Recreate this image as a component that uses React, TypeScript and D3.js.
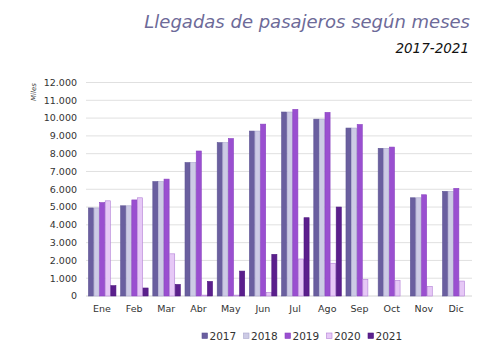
import * as d3 from "d3";

const MONTHS = ["Ene", "Feb", "Mar", "Abr", "May", "Jun", "Jul", "Ago", "Sep", "Oct", "Nov", "Dic"];
const YEARS = ["2017", "2018", "2019", "2020", "2021"];

// miles de pasajeros
const V2017 = [4950, 5070, 6430, 7500, 8620, 9270, 10340, 9940, 9440, 8300, 5520, 5880];
const V2018 = [4950, 5070, 6430, 7500, 8620, 9270, 10340, 9940, 9440, 8300, 5520, 5880];
const V2019 = [5250, 5400, 6570, 8150, 8850, 9660, 10490, 10320, 9640, 8370, 5690, 6050];
const V2020 = [5350, 5520, 2370, 50, 50, 200, 2080, 1840, 940, 880, 540, 840];
const V2021 = [580, 450, 650, 820, 1400, 2340, 4400, 5000, 0, 0, 0, 0];

const Y_TICKS = [0, 1000, 2000, 3000, 4000, 5000, 6000, 7000, 8000, 9000, 10000, 11000, 12000];

const COLORS = ["#6a5f9f", "#cdcbe5", "#9a4fd0", "#e6c8f6", "#5b1f8c"];
const STROKES = ["#5e5494", "#a9a6cc", "#8a43c0", "#b27fd6", "#4e1880"];

const MARGIN = { top: 82.5, right: 23, bottom: 63, left: 86 };
const W = 495;
const H = 359;

const fmt = (v: number) => d3.format(",")(v).replace(/,/g, ".");

export default function App() {
  const series = [V2017, V2018, V2019, V2020, V2021];
  const boundsW = W - MARGIN.left - MARGIN.right;
  const boundsH = H - MARGIN.top - MARGIN.bottom;

  const x0 = d3.scaleBand().domain(MONTHS).range([0, boundsW]).paddingInner(0.13).paddingOuter(0.06);
  const x1 = d3.scaleBand().domain(YEARS).range([0, x0.bandwidth()]).padding(0);
  const y = d3.scaleLinear().domain([0, 12000]).range([boundsH, 0]);

  const font = "'DejaVu Sans', Verdana, sans-serif";

  return (
    <svg width={W} height={H} style={{ position: "absolute", left: 0, top: 0 }}>
      <text x={470} y={28} textAnchor="end" fontFamily={font} fontStyle="italic" fontSize={18} fill="#6d6a98">
        Llegadas de pasajeros según meses
      </text>
      <text x={469} y={53} textAnchor="end" fontFamily={font} fontStyle="italic" fontSize={13.5} fill="#111">
        2017-2021
      </text>
      <text
        transform={`translate(36,92) rotate(-90)`}
        textAnchor="middle"
        fontFamily={font}
        fontStyle="italic"
        fontSize={7}
        fill="#444"
      >
        Miles
      </text>
      <g transform={`translate(${MARGIN.left},${MARGIN.top})`}>
        {Y_TICKS.map((t) => (
          <g key={t}>
            {t > 0 && <line x1={0} x2={boundsW} y1={y(t)} y2={y(t)} stroke="#e0e0e0" strokeWidth={1} />}
            <text x={-9} y={y(t)} dy="0.35em" textAnchor="end" fontFamily={font} fontSize={9.5} fill="#333">
              {fmt(t)}
            </text>
          </g>
        ))}
        <line x1={0} x2={boundsW} y1={boundsH} y2={boundsH} stroke="#d4d4d4" />
        {MONTHS.map((m, i) => (
          <g key={m} transform={`translate(${x0(m)},0)`}>
            {series.map((s, j) => {
              const v = s[i];
              if (!v) return null;
              return (
                <rect
                  key={j}
                  x={x1(YEARS[j])! + 0.5}
                  y={y(v)}
                  width={x1.bandwidth() - 0.5}
                  height={boundsH - y(v)}
                  fill={COLORS[j]}
                  stroke={STROKES[j]}
                  strokeWidth={0.6}
                />
              );
            })}
            <text
              x={x0.bandwidth() / 2}
              y={boundsH + 16}
              textAnchor="middle"
              fontFamily={font}
              fontSize={9.5}
              fill="#333"
            >
              {m}
            </text>
          </g>
        ))}
      </g>
      <g transform="translate(202,336)">
        {YEARS.map((yr, j) => (
          <g key={yr} transform={`translate(${j * 41.5},0)`}>
            <rect x={0} y={-3} width={5.5} height={5.5} fill={COLORS[j]} stroke={STROKES[j]} strokeWidth={0.6} />
            <text x={7.5} y={0} dy="0.35em" fontFamily={font} fontSize={10.5} fill="#333">
              {yr}
            </text>
          </g>
        ))}
      </g>
    </svg>
  );
}
